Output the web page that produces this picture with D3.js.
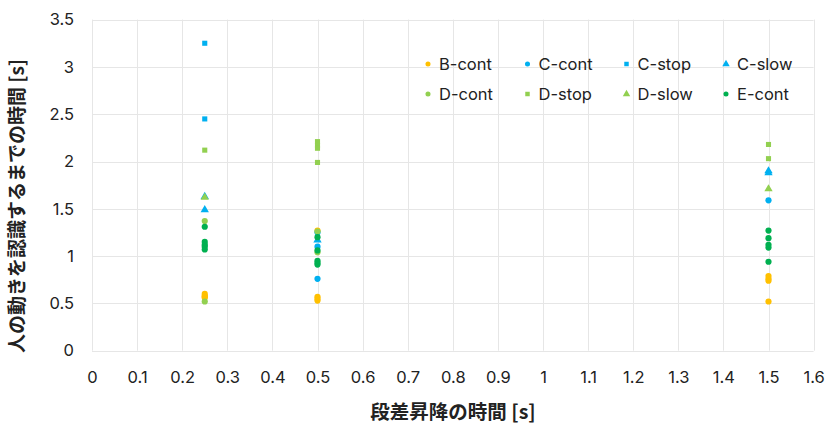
<!DOCTYPE html>
<html>
<head>
<meta charset="utf-8">
<script src="https://cdn.jsdelivr.net/npm/d3@7"></script>
<style>
  html, body { margin: 0; padding: 0; background: #fff; }
  svg { display: block; }
</style>
</head>
<body>
<svg id="chart" width="828" height="424"></svg>
<script>
// Step-climbing duration [s] vs. time until a person's movement is recognised [s]
const xTicks = [0, 0.1, 0.2, 0.3, 0.4, 0.5, 0.6, 0.7, 0.8, 0.9, 1, 1.1, 1.2, 1.3, 1.4, 1.5, 1.6];
const yTicks = [0, 0.5, 1, 1.5, 2, 2.5, 3, 3.5];

const seriesNames = ["B-cont", "C-cont", "C-stop", "C-slow", "D-cont", "D-stop", "D-slow", "E-cont"];

// [step time, recognition time]
const bCont = [[0.25, 0.60], [0.25, 0.58], [0.25, 0.57], [0.25, 0.56],
               [0.5, 1.27], [0.5, 0.57], [0.5, 0.55], [0.5, 0.53],
               [1.5, 0.79], [1.5, 0.76], [1.5, 0.74], [1.5, 0.52]];
const cCont = [[0.5, 1.25], [0.5, 1.10], [0.5, 0.76],
               [1.5, 1.59]];
const cStop = [[0.25, 3.25], [0.25, 2.45]];
const cSlow = [[0.25, 1.63], [0.25, 1.49],
               [0.5, 1.17],
               [1.5, 1.90], [1.5, 1.88]];
const dCont = [[0.25, 1.37], [0.25, 0.52],
               [0.5, 1.26], [0.5, 1.04]];
const dStop = [[0.25, 2.12],
               [0.5, 2.21], [0.5, 2.17], [0.5, 2.14], [0.5, 1.99],
               [1.5, 2.18], [1.5, 2.03]];
const dSlow = [[0.25, 1.62],
               [1.5, 1.71]];
const eCont = [[0.25, 1.31], [0.25, 1.15], [0.25, 1.12], [0.25, 1.10], [0.25, 1.07],
               [0.5, 1.20], [0.5, 1.06], [0.5, 0.95], [0.5, 0.93], [0.5, 0.91],
               [1.5, 1.27], [1.5, 1.19], [1.5, 1.12], [1.5, 1.09], [1.5, 0.94]];

const seriesData = [bCont, cCont, cStop, cSlow, dCont, dStop, dSlow, eCont];
const seriesColors = ["#FFC000", "#00B0F0", "#00B0F0", "#00B0F0", "#92D050", "#92D050", "#92D050", "#00B050"];
const seriesShapes = ["circle", "circle", "square", "triangle", "circle", "square", "triangle", "circle"];

const svg = d3.select("#chart");
const plotLeft = 92, plotRight = 813.6, plotTop = 19.6, plotBottom = 350.7;

const x = d3.scaleLinear().domain([0, 1.6]).range([plotLeft, plotRight]);
const y = d3.scaleLinear().domain([0, 3.5]).range([plotBottom, plotTop]);

const tickFont = "Inter, 'Liberation Sans', Arial, sans-serif";
const jpFont = "'Noto Sans CJK JP', 'Noto Sans', sans-serif";

// gridlines
const grid = svg.append("g").attr("stroke", "#e6e6e6").attr("stroke-width", 1);
grid.selectAll("line.v").data(xTicks).join("line")
  .attr("class", "v")
  .attr("x1", d => Math.round(x(d)) + 0.5).attr("x2", d => Math.round(x(d)) + 0.5)
  .attr("y1", plotTop).attr("y2", plotBottom);
grid.selectAll("line.h").data(yTicks).join("line")
  .attr("class", "h")
  .attr("x1", plotLeft).attr("x2", plotRight)
  .attr("y1", d => Math.round(y(d)) + 0.5).attr("y2", d => Math.round(y(d)) + 0.5);

// axes (labels only; lines come from the grid)
const xAxis = svg.append("g")
  .attr("transform", `translate(0,${plotBottom + 21})`)
  .call(d3.axisBottom(x).tickValues(xTicks).tickSize(0).tickPadding(0).tickFormat(d3.format("")));
xAxis.select(".domain").remove();
xAxis.selectAll("text").attr("font-family", tickFont).attr("font-size", 16.5).attr("fill", "#222").attr("dy", "0.71em");

const yAxis = svg.append("g")
  .attr("transform", `translate(${plotLeft - 18},0)`)
  .call(d3.axisLeft(y).tickValues(yTicks).tickSize(0).tickPadding(0).tickFormat(d3.format("")));
yAxis.select(".domain").remove();
yAxis.selectAll("text").attr("font-family", tickFont).attr("font-size", 16.5).attr("fill", "#222");

// axis titles
svg.append("text")
  .attr("x", 453).attr("y", 419)
  .attr("text-anchor", "middle")
  .attr("font-family", jpFont).attr("font-weight", "bold").attr("font-size", 19.5).attr("fill", "#222")
  .text("段差昇降の時間 [s]");
svg.append("text")
  .attr("transform", `translate(24,206) rotate(-90)`)
  .attr("text-anchor", "middle")
  .attr("font-family", jpFont).attr("font-weight", "bold").attr("font-size", 19).attr("fill", "#222")
  .text("人の動きを認識するまでの時間 [s]");

const symbolFor = (shape, size) => {
  const type = shape === "square" ? d3.symbolSquare : shape === "triangle" ? d3.symbolTriangle : d3.symbolCircle;
  return d3.symbol().type(type).size(size)();
};
const markSize = { circle: 30, square: 26, triangle: 30 };

// points
seriesData.forEach((pts, i) => {
  svg.append("g").selectAll("path").data(pts).join("path")
    .attr("transform", d => `translate(${x(d[0])},${y(d[1])})`)
    .attr("d", symbolFor(seriesShapes[i], markSize[seriesShapes[i]]))
    .attr("fill", seriesColors[i]);
});

// legend
const legendX = [428, 527.5, 626.5, 726];
const legendY = [64, 94];
const legend = svg.append("g");
seriesNames.forEach((name, i) => {
  const lx = legendX[i % 4], ly = legendY[Math.floor(i / 4)];
  legend.append("path")
    .attr("transform", `translate(${lx},${ly})`)
    .attr("d", symbolFor(seriesShapes[i], seriesShapes[i] === "triangle" ? 24 : 20))
    .attr("fill", seriesColors[i]);
  legend.append("text")
    .attr("x", lx + 11).attr("y", ly).attr("dy", "0.35em")
    .attr("font-family", tickFont).attr("font-size", 16.5).attr("fill", "#222")
    .text(name);
});
</script>
</body>
</html>
